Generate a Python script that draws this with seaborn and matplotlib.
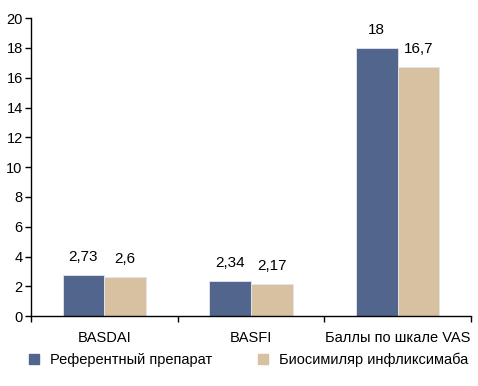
import pandas as pd
import matplotlib.pyplot as plt
import seaborn as sns
from matplotlib.ticker import FixedLocator

# Data
categories = ['BASDAI', 'BASFI', 'Баллы по шкале VAS']
series = ['Референтный препарат', 'Биосимиляр инфликсимаба']
reference_vals = [2.73, 2.34, 18]
biosimilar_vals = [2.6, 2.17, 16.7]
value_labels = [['2,73', '2,34', '18'], ['2,6', '2,17', '16,7']]
colors = ['#52658C', '#D7C1A1']

df = pd.DataFrame({
    'category': categories * 2,
    'series': [series[0]] * 3 + [series[1]] * 3,
    'value': reference_vals + biosimilar_vals,
})

sns.set_style('white')
plt.rcParams['font.family'] = ['Liberation Sans', 'DejaVu Sans']
plt.rcParams['text.color'] = 'black'

fig = plt.figure(figsize=(4.78, 3.86), dpi=100)
ax = fig.add_axes([0.065, 0.181, 0.92, 0.772])

sns.barplot(data=df, x='category', y='value', hue='series', palette=colors,
            saturation=1, width=0.57, edgecolor='#E4E6EE', linewidth=0.6,
            ax=ax, legend=False)

# Value labels above bars
for cont, labels in zip(ax.containers, value_labels):
    ax.bar_label(cont, labels=labels, padding=8, fontsize=11, color='black')

ax.set_ylim(0, 20)
ax.set_yticks(range(0, 21, 2))
ax.set_xlim(-0.5, 2.5)
ax.set_xlabel('')
ax.set_ylabel('')

# Spines
for s in ['top', 'right']:
    ax.spines[s].set_visible(False)
for s in ['left', 'bottom']:
    ax.spines[s].set_color('black')
    ax.spines[s].set_linewidth(1.0)

ax.tick_params(axis='y', which='major', left=True, direction='out', length=4,
               width=1, color='black', labelsize=10.5, labelcolor='black', pad=2)
ax.tick_params(axis='x', which='major', bottom=False, labelsize=10.5,
               labelcolor='black', pad=7)
ax.xaxis.set_minor_locator(FixedLocator([-0.5, 0.5, 1.5, 2.5]))
ax.tick_params(axis='x', which='minor', bottom=True, direction='out', length=4,
               width=1, color='black')

# Legend
handles = [plt.Line2D([0], [0], marker='s', linestyle='', markersize=7,
                      markerfacecolor=c, markeredgecolor=c) for c in colors]
fig.legend(handles, series, loc='lower center', bbox_to_anchor=(0.51, 0.015),
           ncol=2, frameon=False, fontsize=10.5, handletextpad=0.1,
           columnspacing=2.5, labelcolor='black')

fig.savefig('out.png', dpi=100)
